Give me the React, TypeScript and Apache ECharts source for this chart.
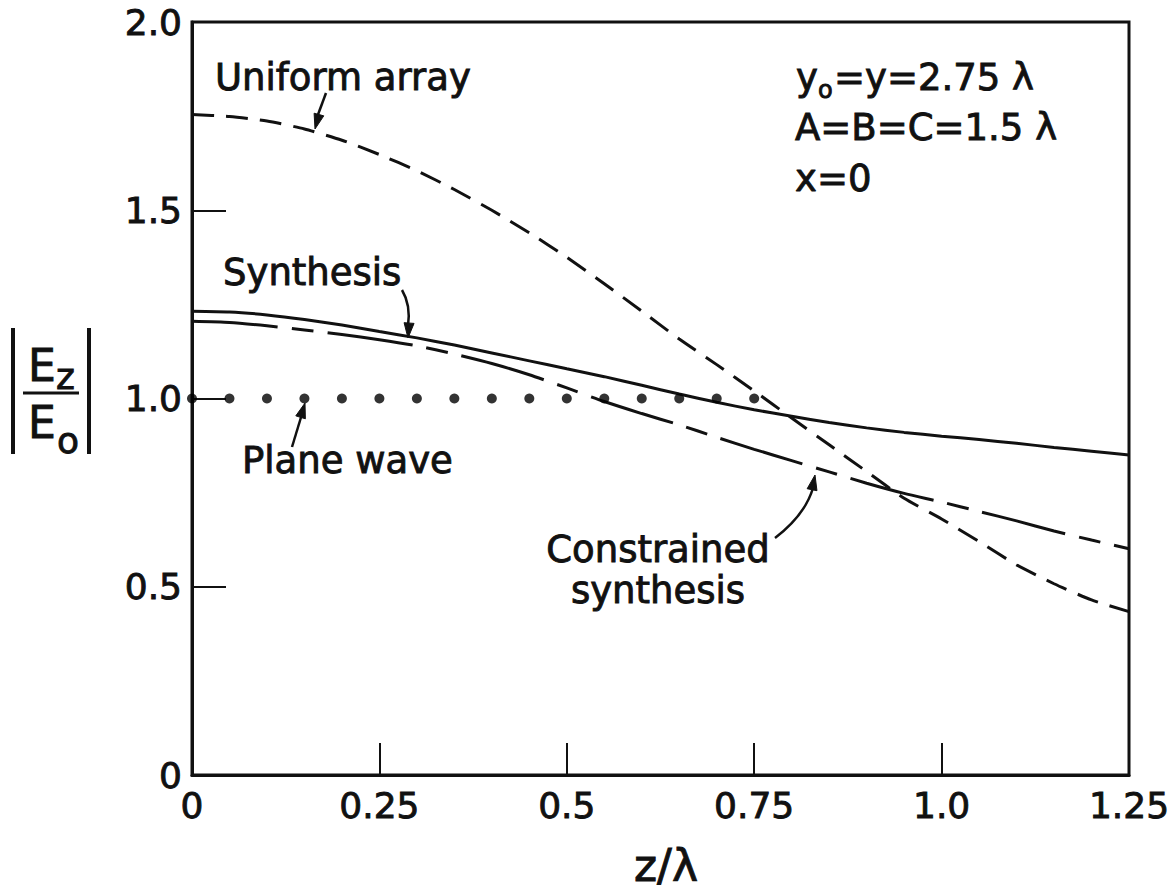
import React, { useEffect, useRef } from "react";
import * as echarts from "echarts";

// z/λ sample positions
const zValues = [
  0, 0.05, 0.1, 0.15, 0.2, 0.25, 0.3, 0.35, 0.4, 0.45, 0.5, 0.55, 0.6, 0.65,
  0.7, 0.75, 0.8, 0.85, 0.9, 0.95, 1.0, 1.05, 1.1, 1.15, 1.2, 1.25,
];
const uniformArray = [
  1.754, 1.749, 1.737, 1.716, 1.686, 1.648, 1.605, 1.555, 1.5, 1.44, 1.375,
  1.305, 1.232, 1.158, 1.09, 1.02, 0.948, 0.877, 0.806, 0.735, 0.68, 0.62,
  0.558, 0.508, 0.465, 0.434,
];
const synthesis = [
  1.232, 1.23, 1.222, 1.21, 1.195, 1.178, 1.161, 1.142, 1.121, 1.1, 1.079,
  1.058, 1.035, 1.012, 0.99, 0.97, 0.953, 0.936, 0.922, 0.91, 0.9, 0.891,
  0.881, 0.87, 0.86, 0.85,
];
const constrainedSynthesis = [
  1.205, 1.202, 1.193, 1.182, 1.17, 1.156, 1.14, 1.118, 1.093, 1.063, 1.028,
  0.992, 0.96, 0.93, 0.897, 0.865, 0.835, 0.805, 0.775, 0.748, 0.725, 0.7,
  0.675, 0.648, 0.624, 0.601,
];
const planeWaveZ = [
  0, 0.05, 0.1, 0.15, 0.2, 0.25, 0.3, 0.35, 0.4, 0.45, 0.5, 0.55, 0.6, 0.65,
  0.7, 0.75,
];
const planeWave = [1, 1, 1, 1, 1, 1, 1, 1, 1, 1, 1, 1, 1, 1, 1, 1];

const xTickValues = [0, 0.25, 0.5, 0.75, 1.0, 1.25];
const xTickLabels = ["0", "0.25", "0.5", "0.75", "1.0", "1.25"];
const yTickValues = [0, 0.5, 1.0, 1.5, 2.0];
const yTickLabels = ["0", "0.5", "1.0", "1.5", "2.0"];

const FONT = "DejaVu Sans";
const INK = "#111";

function lookup(vals: number[], labels: string[], v: number) {
  for (let i = 0; i < vals.length; i++) {
    if (Math.abs(vals[i] - v) < 1e-6) return labels[i];
  }
  return "";
}

function txt(text: string, x: number, y: number, size: number, align = "left", lh?: number) {
  return {
    type: "text",
    z: 100,
    style: {
      text,
      x,
      y,
      fontSize: size,
      fontFamily: FONT,
      fill: INK,
      stroke: INK,
      lineWidth: 0.9,
      lineHeight: lh,
      align,
      textAlign: align,
      verticalAlign: "middle",
      textVerticalAlign: "middle",
    },
  };
}

function head(tx: number, ty: number, fx: number, fy: number, len = 15, w = 10) {
  const dx = tx - fx;
  const dy = ty - fy;
  const d = Math.sqrt(dx * dx + dy * dy) || 1;
  const ux = dx / d;
  const uy = dy / d;
  const bx = tx - ux * len;
  const by = ty - uy * len;
  const px = -uy * (w / 2);
  const py = ux * (w / 2);
  return {
    type: "polygon",
    z: 100,
    shape: {
      points: [
        [tx, ty],
        [bx + px, by + py],
        [bx - px, by - py],
      ],
    },
    style: { fill: INK, stroke: INK, lineWidth: 1 },
  };
}

function seg(x1: number, y1: number, x2: number, y2: number, lw = 2.5) {
  return {
    type: "line",
    z: 100,
    shape: { x1, y1, x2, y2 },
    style: { stroke: INK, lineWidth: lw },
  };
}

function curve(x1: number, y1: number, cx: number, cy: number, x2: number, y2: number) {
  return {
    type: "bezierCurve",
    z: 100,
    shape: { x1, y1, x2, y2, cpx1: cx, cpy1: cy },
    style: { stroke: INK, lineWidth: 2.5, fill: null },
  };
}

export default function App() {
  const ref = useRef<HTMLDivElement>(null);
  useEffect(() => {
    if (!ref.current) return;
    const chart = echarts.init(ref.current, null, { renderer: "svg" });
    const pair = (ys: number[], xs: number[]) => xs.map((x, i) => [x, ys[i]]);
    const labelStyle = {
      color: INK,
      fontFamily: FONT,
      fontSize: 36,
      textBorderColor: INK,
      textBorderWidth: 0.9,
    };
    chart.setOption({
      animation: false,
      backgroundColor: "#fff",
      grid: {
        show: true,
        left: 192,
        right: 45,
        top: 22,
        bottom: 119,
        borderColor: INK,
        borderWidth: 3,
        backgroundColor: "transparent",
      },
      xAxis: {
        type: "value",
        min: 0,
        max: 1.25,
        interval: 0.25,
        splitLine: { show: false },
        axisLine: { lineStyle: { color: INK, width: 3 } },
        axisTick: { inside: true, length: 32, lineStyle: { color: INK, width: 2 } },
        axisLabel: {
          ...labelStyle,
          margin: 12,
          formatter: (v: number) => lookup(xTickValues, xTickLabels, v),
        },
      },
      yAxis: {
        type: "value",
        min: 0,
        max: 2,
        interval: 0.5,
        splitLine: { show: false },
        axisLine: { lineStyle: { color: INK, width: 3 } },
        axisTick: { inside: true, length: 34, lineStyle: { color: INK, width: 2 } },
        axisLabel: {
          ...labelStyle,
          margin: 10,
          formatter: (v: number) => lookup(yTickValues, yTickLabels, v),
        },
      },
      series: [
        {
          name: "Uniform array",
          type: "line",
          data: pair(uniformArray, zValues),
          showSymbol: false,
          smooth: 0.2,
          lineStyle: { color: INK, width: 3, type: [22, 12] },
        },
        {
          name: "Synthesis",
          type: "line",
          data: pair(synthesis, zValues),
          showSymbol: false,
          smooth: 0.2,
          lineStyle: { color: INK, width: 3 },
        },
        {
          name: "Constrained synthesis",
          type: "line",
          data: pair(constrainedSynthesis, zValues),
          showSymbol: false,
          smooth: 0.2,
          lineStyle: { color: INK, width: 3, type: [86, 14, 22, 14] },
        },
        {
          name: "Plane wave",
          type: "scatter",
          data: pair(planeWave, planeWaveZ),
          symbol: "circle",
          symbolSize: 10,
          itemStyle: { color: "#000" },
          z: 5,
        },
      ],
      graphic: [
        // annotations
        txt("Uniform array", 215, 77, 37),
        seg(326, 93, 316, 120),
        head(315, 129, 318, 118),
        txt("Synthesis", 223, 272, 37),
        curve(402, 290, 411, 305, 408, 326),
        head(408, 338, 409, 324),
        txt("Plane wave", 242, 460, 37),
        seg(292, 447, 302, 414),
        head(305, 403, 301, 416),
        txt("Constrained", 658, 549, 37, "center"),
        txt("synthesis", 658, 590, 37, "center"),
        curve(775, 538, 805, 515, 813, 488),
        head(815, 475, 812, 490),
        // parameters
        txt("y", 796, 77, 37),
        txt("o", 818, 90, 24),
        txt("=y=2.75 λ", 834, 77, 37),
        txt("A=B=C=1.5 λ", 795, 127, 37),
        txt("x=0", 795, 178, 37),
        // x axis name
        txt("z/λ", 666, 865, 44, "center"),
        // y axis name |Ez/Eo|
        seg(13, 328, 13, 454, 4),
        seg(89, 328, 89, 454, 4),
        seg(23, 393, 79, 393, 3),
        txt("E", 28, 365, 44),
        txt("z", 56, 376, 36),
        txt("E", 28, 422, 44),
        txt("o", 57, 440, 36),
      ],
    });
    return () => chart.dispose();
  }, []);
  return (
    <div
      ref={ref}
      style={{ position: "fixed", left: 0, top: 0, width: 1174, height: 894, background: "#fff" }}
    />
  );
}
